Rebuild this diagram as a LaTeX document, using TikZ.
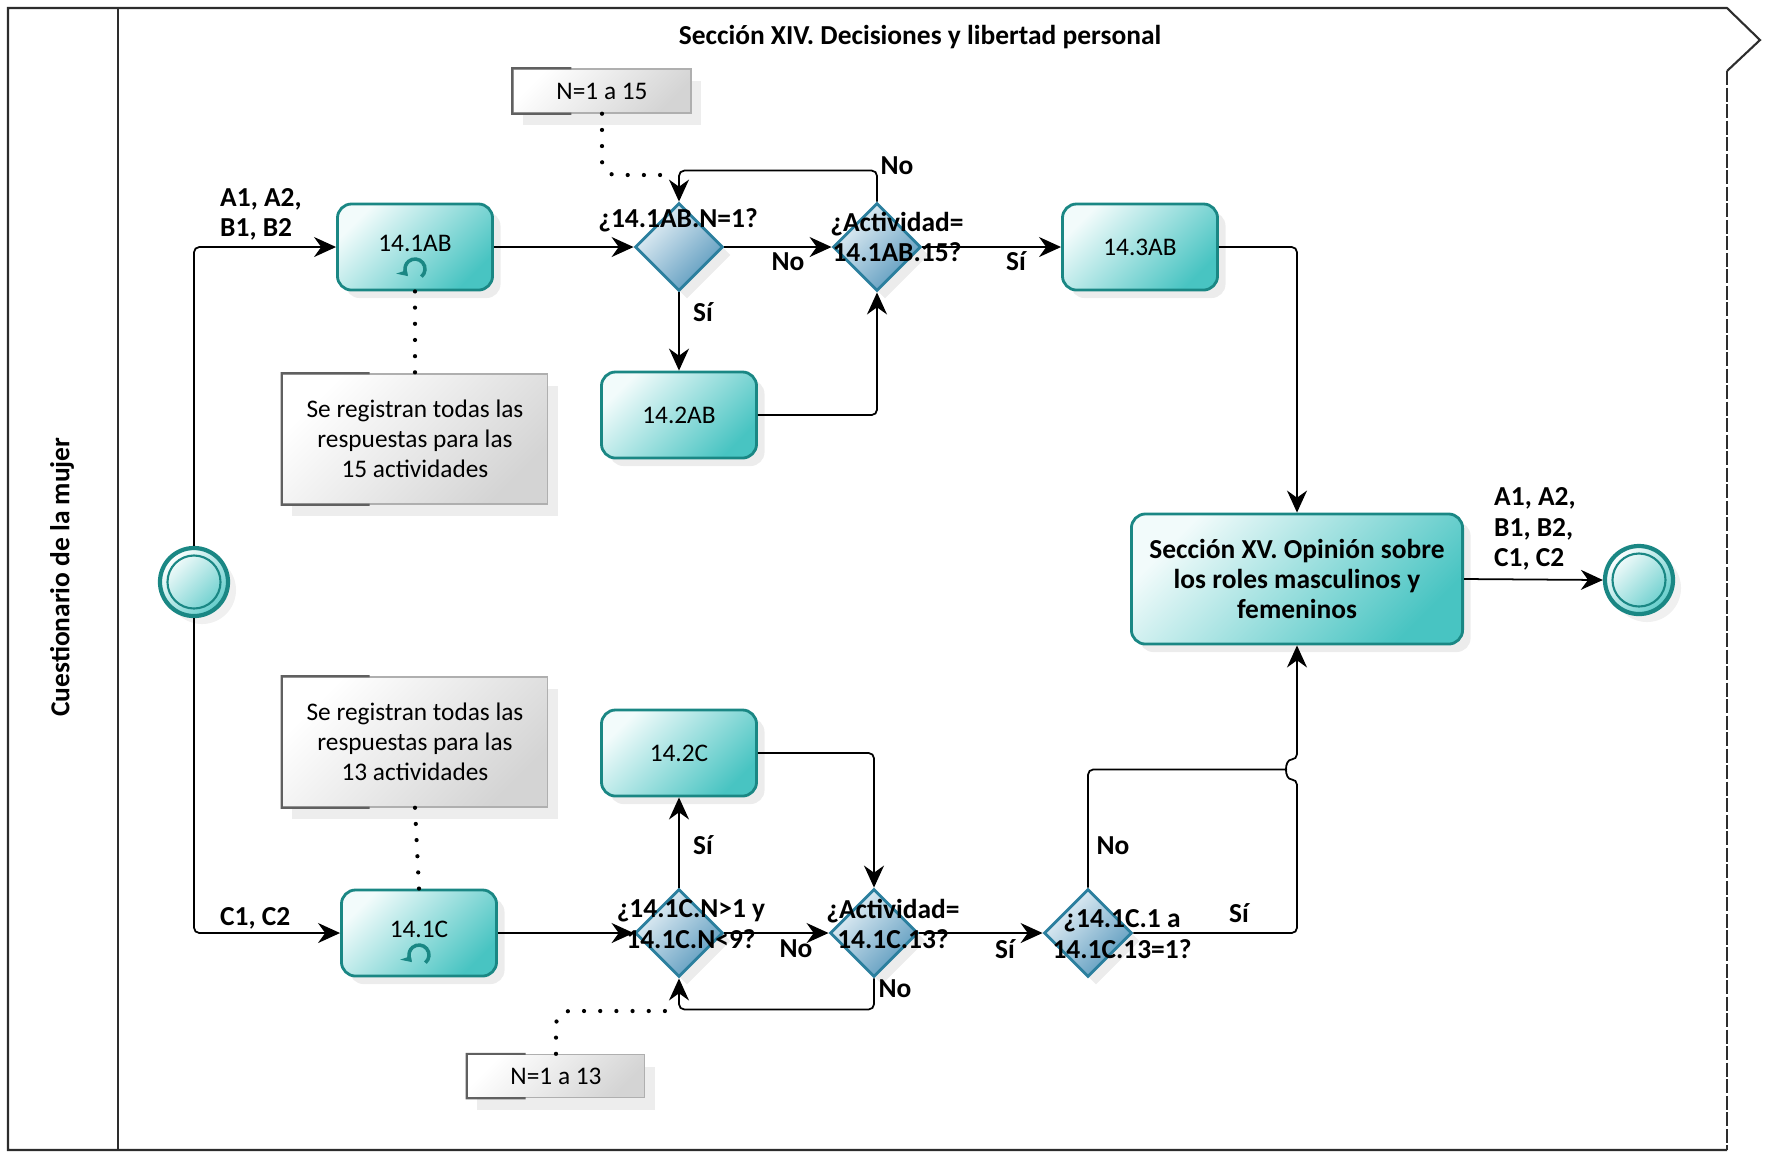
\documentclass[tikz,border=0pt]{standalone}
\usepackage{fontspec}
\setmainfont{Carlito}
\usepackage{tikz}
\usepackage{xcolor}
\usetikzlibrary{shapes.geometric, arrows.meta, positioning, calc, shadows}
\definecolor{cTealDk}{RGB}{26,135,132}
\definecolor{cTaskLt}{RGB}{242,251,251}
\definecolor{cTaskDk}{RGB}{72,196,194}
\definecolor{cGateBd}{RGB}{43,127,158}
\definecolor{cGateLt}{RGB}{236,244,249}
\definecolor{cGateDk}{RGB}{88,152,188}
\definecolor{cNoteBd}{RGB}{175,175,175}
\definecolor{cNoteDk}{RGB}{212,212,212}
\definecolor{cFrame}{RGB}{45,45,45}
\newcommand{\fsmall}{\fontsize{7.2}{8.6}\selectfont}
\newcommand{\fbold}{\fontsize{7.8}{8.6}\selectfont\bfseries}
\tikzset{
	task/.style  ={rectangle, rounded corners=4pt, draw=cTealDk, line width=0.8pt, top color=cTaskLt, bottom color=cTaskDk, shading angle=45, minimum width=1.55cm, minimum height=0.86cm, inner sep=0pt, align=center, drop shadow={shadow xshift=0.8mm, shadow yshift=-0.8mm, opacity=0.15}},
	gate/.style  ={diamond, aspect=1, minimum size=0.88cm, inner sep=0pt, draw=cGateBd, line width=0.8pt, top color=cGateLt, bottom color=cGateDk, shading angle=45, drop shadow={shadow xshift=0.8mm, shadow yshift=-0.8mm, opacity=0.15}},
	event/.style ={circle, minimum size=0.68cm, inner sep=0pt, draw=cTealDk, line width=1.2pt, top color=white, bottom color=cTaskDk!85, shading angle=45, drop shadow={shadow xshift=0.8mm, shadow yshift=-0.8mm, opacity=0.12}},
	note/.style  ={rectangle, draw=cNoteBd, line width=0.4pt, top color=white, bottom color=cNoteDk, shading angle=45, align=center, inner sep=0pt, drop shadow={shadow xshift=1mm, shadow yshift=-1.2mm, opacity=0.14}},
	notebr/.style={draw=gray!75!black, line width=0.6pt},
	% connectors and labels
	flow/.style  ={draw=black, line width=0.5pt, -{Stealth[length=2.2mm, width=2mm]}, rounded corners=1.5pt},
	assoc/.style ={draw=black, line width=1.2pt, line cap=round, dash pattern=on 0pt off 4.6pt, rounded corners=4pt},
	loopic/.style={draw=cTealDk, line width=1pt, -{Stealth[length=1mm, width=1.3mm]}},
	flbl/.style  ={font=\fbold, inner sep=1pt},
	qtxt/.style  ={font=\fbold, align=center, inner sep=0pt},
	lanebd/.style={draw=cFrame, line width=0.6pt},
}

\begin{document}
\begin{tikzpicture}[font=\fsmall, x=0.01cm, y=-0.01cm]
	\useasboundingbox (0,0) rectangle (1772,1153);
	% pool and lane
	\draw[lanebd] (1727,71) -- (1760,40) -- (1727,8) -- (8,8) -- (8,1150) -- (1727,1150);
	\draw[lanebd, dash pattern=on 4pt off 0.7pt] (1727,71) -- (1727,1150);
	\draw[lanebd] (118,8) -- (118,1150);
	\node[font=\fbold] (title) at (920,37) {Sección XIV. Decisiones y libertad personal};
	\node[font=\fbold, rotate=90] (lane) at (62,577) {Cuestionario de la mujer};

	% events
	\node[event] (start) at (194,582) {};
	\node[event] (endev) at (1639,580) {};
	\foreach \e in {start, endev}
		\draw[cTealDk, line width=0.6pt] (\e.center) circle (0.265cm);

	% tasks
	\node[task] (t1ab) at (415,247) {\raisebox{2pt}{14.1AB}};
	\node[task] (t2ab) at (679,415) {14.2AB};
	\node[task] (t3ab) at (1140,247) {14.3AB};
	\node[task] (t1c) at (419,933) {\raisebox{2pt}{14.1C}};
	\node[task] (t2c) at (679,753) {14.2C};
	\node[task, font=\fbold, minimum width=3.31cm, minimum height=1.3cm] (secc) at (1297,579) {Sección XV. Opinión sobre\\los roles masculinos y\\femeninos};
	\foreach \t in {t1ab, t1c}
		\draw[loopic] ([yshift=-0.22cm]\t.center) ++(-50:0.1cm) arc[start angle=-50, end angle=225, radius=0.1cm];

	% gateways
	\node[gate] (d1) at (679,247) {};
	\node[gate] (d2) at (877,247) {};
	\node[gate] (d3) at (679,933) {};
	\node[gate] (d4) at (874,933) {};
	\node[gate] (d5) at (1088,933) {};

	% annotations
	\node[note, minimum width=1.78cm, minimum height=0.44cm] (n15) at (602,91) {N=1 a 15};
	\node[note, minimum width=2.65cm, minimum height=1.3cm] (nact15) at (415,439) {Se registran todas las\\respuestas para las\\15 actividades};
	\node[note, minimum width=2.65cm, minimum height=1.3cm] (nact13) at (415,742) {Se registran todas las\\respuestas para las\\13 actividades};
	\node[note, minimum width=1.77cm, minimum height=0.43cm] (n13) at (556,1076) {N=1 a 13};
	\foreach \n in {n15, nact15, nact13, n13}
		\draw[notebr] ($(\n.north west)!0.33!(\n.north east)$) -- (\n.north west) -- (\n.south west) -- ($(\n.south west)!0.33!(\n.south east)$);

	% sequence flows
	\draw[flow] (start.north) |- (t1ab.west);
	\draw[flow] (start.south) |- (t1c.west);
	\draw[flow] (t1ab.east) -- (d1.west);
	\draw[flow] (d1.east) -- (d2.west);
	\draw[flow] (d1.south) -- (t2ab.north);
	\draw[flow] (t2ab.east) -| (d2.south);
	\draw[flow] (d2.north) -- ++(0,-31) -| (d1.north);
	\draw[flow] (d2.east) -- (t3ab.west);
	\draw[flow] (t3ab.east) -| (secc.north);
	\draw[flow] (secc.east) -- (endev.west);
	\draw[flow] (t1c.east) -- (d3.west);
	\draw[flow] (d3.north) -- (t2c.south);
	\draw[flow] (d3.east) -- (d4.west);
	\draw[flow] (t2c.east) -| (d4.north);
	\draw[flow] (d4.south) -- ++(0,31) -| (d3.south);
	\draw[flow] (d4.east) -- (d5.west);
	\coordinate (jlo) at ($(secc.south)+(0,134)$);
	\coordinate (jhi) at ($(secc.south)+(0,114)$);
	\coordinate (jmp) at ($(secc.south)+(-10,124)$);
	\draw[flow] (d5.east) -| (jlo) .. controls +(-13,0) and +(-13,0) .. (jhi) -- (secc.south);
	\draw[flow, -] (d5.north) |- (jmp);

	% associations
	\coordinate (a15) at (667,175);
	\coordinate (a13) at (670,1011);
	\draw[assoc] (t1ab.south) -- (nact15.north);
	\draw[assoc] (nact13.south) -- (t1c.north);
	\draw[assoc] (n15.south) |- (a15);
	\draw[assoc] (n13.north) |- (a13);

	% gateway questions
	\node[qtxt] (q1) at (678,220) {¿14.1AB.N=1?};
	\node[qtxt] (q2) at (897,237) {¿Actividad=\\14.1AB.15?};
	\node[qtxt] (q3) at (691,924) {¿14.1C.N>1 y\\14.1C.N<9?};
	\node[qtxt] (q4) at (893,924) {¿Actividad=\\14.1C.13?};
	\node[qtxt] (q5) at (1122,934) {¿14.1C.1 a\\14.1C.13=1?};

	% flow labels
	\node[flbl, align=left, anchor=west] (lab) at (216,214) {A1, A2,\\B1, B2};
	\node[flbl, anchor=west] (lc) at (216,918) {C1, C2};
	\node[flbl, align=left, anchor=west] (lout) at (1490,529) {A1, A2,\\B1, B2,\\C1, C2};
	\node[flbl] (lno1) at (788,262) {No};
	\node[flbl] (lsi1) at (703,312) {Sí};
	\node[flbl] (lno2) at (897,166) {No};
	\node[flbl] (lsi2) at (1016,261) {Sí};
	\node[flbl] (lsi3) at (703,845) {Sí};
	\node[flbl] (lno3) at (796,949) {No};
	\node[flbl] (lno4) at (895,989) {No};
	\node[flbl] (lsi4) at (1005,949) {Sí};
	\node[flbl] (lno5) at (1113,846) {No};
	\node[flbl] (lsi5) at (1239,913) {Sí};
\end{tikzpicture}
\end{document}
